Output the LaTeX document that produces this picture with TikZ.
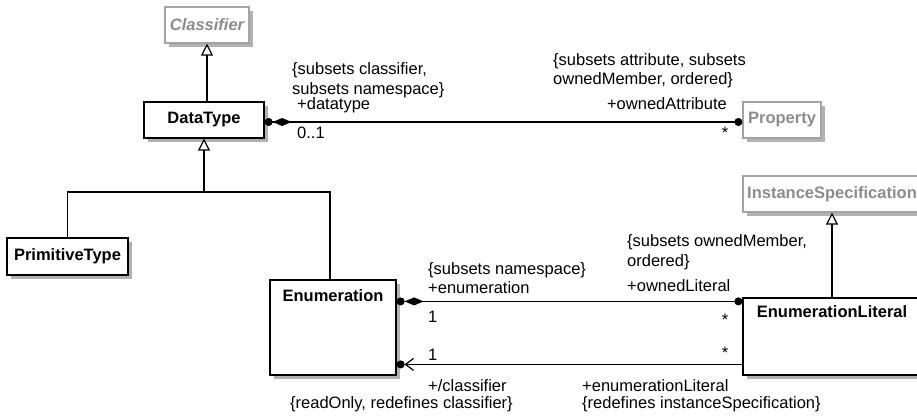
\documentclass[tikz,border=0pt]{standalone}
\usepackage{fontspec}
\setmainfont{Liberation Sans}
\usetikzlibrary{arrows.meta, shadows, calc}
\definecolor{umlgray}{HTML}{8C8C8C}
\tikzset{
umlShadow/.style={drop shadow={shadow xshift=4pt, shadow yshift=-4pt, fill=black!30, opacity=1}}}

\begin{document}
\begin{tikzpicture}[x=1pt, y=-1pt]
		\tikzset{class/.style = {draw, fill=white, line width=1.2pt, umlShadow, inner sep=0pt, font=\fontsize{16.5}{20}\selectfont\bfseries}}
		\tikzset{absclass/.style = {class, draw=umlgray!80, text=umlgray}}
		\tikzset{lbl/.style = {inner sep=0pt, anchor=base west, align=left, font=\fontsize{16.5}{20}\selectfont}}
		\tikzset{gen/.style = {line width=1.2pt, -{Triangle[open, length=12pt, width=12pt, fill=white]}}}
		\tikzset{comp/.style = {line width=1.2pt, {Circle[length=8pt]Diamond[length=19pt, width=8pt]}-{Circle[length=8pt]}}}
		\tikzset{nav/.style = {line width=1.2pt, {Circle[length=8pt]Straight Barb[length=8pt, width=12pt]}-}}

		\useasboundingbox (0,0) rectangle (917,417);
		\clip (0,0) rectangle (917,417);

		\node[absclass, font=\fontsize{16.5}{20}\selectfont\bfseries\itshape, minimum width=84pt, minimum height=36pt] (cls) at (207,25) {Classifier};
		\node[class, minimum width=120pt, minimum height=36pt] (dt) at (204,120) {DataType};
		\node[absclass, minimum width=78pt, minimum height=36pt] (prop) at (782,120) {Property};
		\node[absclass, minimum width=178pt, minimum height=36pt] (inst) at (832,194) {InstanceSpecification};
		\node[class, minimum width=121pt, minimum height=37pt] (prim) at (67.5,256.5) {PrimitiveType};
		\node[class, minimum width=126pt, minimum height=95pt] (enum) at (333,327.5) {};
		\node[lbl, anchor=base, font=\fontsize{16.5}{20}\selectfont\bfseries] (enumName) at (333,301) {Enumeration};
		\node[class, minimum width=178pt, minimum height=77pt] (lit) at (832,336.5) {};
		\node[lbl, anchor=base, font=\fontsize{16.5}{20}\selectfont\bfseries] (litName) at (832,317) {EnumerationLiteral};

		\coordinate (fork) at (204,192);
		\coordinate (enumTop) at ($(enum.north east)+(0,22)$);
		\coordinate (enumLow) at ($(enum.north east)+(0,85)$);

		\draw[gen] (dt.north -| cls.south) -- (cls.south);
		\draw[gen] (fork) -- (dt.south);
		\draw[line width=1.2pt] (prim.north) |- (fork) -| ([xshift=-3pt]enum.north);
		\draw[gen] (lit.north) -- (inst.south);
		\draw[comp] ([yshift=-2pt]dt.east) -- ([yshift=-2pt]prop.west);
		\draw[comp] (enumTop) -- (enumTop -| lit.west);
		\draw[nav] (enumLow) -- (enumLow -| lit.west);

		\node[lbl] (dtCons) at (292,95) {\{subsets classifier,\\subsets namespace\}};
		\node[lbl] (dtRole) at (297,110) {+datatype};
		\node[lbl] (dtMult) at (297,138) {0..1};
		\node[lbl] (propCons) at (553,85) {\{subsets attribute, subsets\\ownedMember, ordered\}};
		\node[lbl, anchor=base east] (propRole) at (727,110) {+ownedAttribute};
		\node[lbl, anchor=base] (propMult) at (725,138) {*};
		\node[lbl] (enumCons) at (428,274) {\{subsets namespace\}};
		\node[lbl] (enumRole) at (428,293) {+enumeration};
		\node[lbl] (enumMult) at (428,322) {1};
		\node[lbl] (clsMult) at (428,360) {1};
		\node[lbl] (clsRole) at (428,391) {+/classifier};
		\node[lbl] (clsCons) at (290,408) {\{readOnly, redefines classifier\}};
		\node[lbl] (litCons) at (627,266) {\{subsets ownedMember,\\ordered\}};
		\node[lbl] (litRole) at (627,291) {+ownedLiteral};
		\node[lbl, anchor=base] (litMult) at (725,325) {*};
		\node[lbl, anchor=base] (enumLitMult) at (725,358) {*};
		\node[lbl] (enumLitRole) at (582,391) {+enumerationLiteral};
		\node[lbl] (enumLitCons) at (582,408) {\{redefines instanceSpecification\}};
	\end{tikzpicture}
\end{document}
